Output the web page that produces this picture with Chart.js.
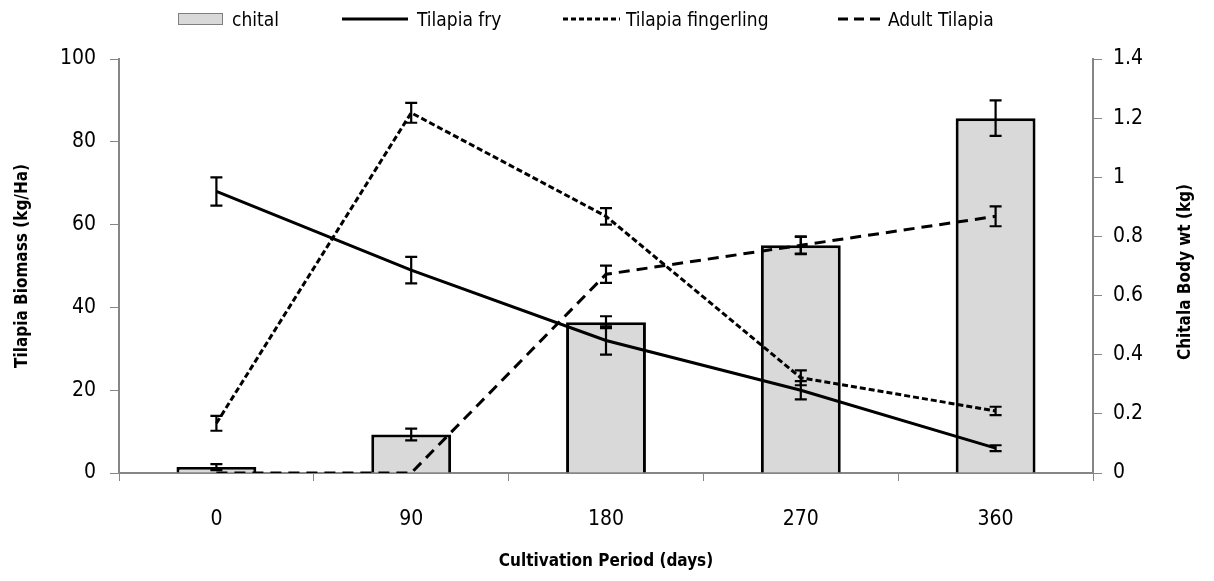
<!DOCTYPE html>
<html>
<head>
<meta charset="utf-8">
<script src="https://cdn.jsdelivr.net/npm/chart.js@4.4.1/dist/chart.umd.min.js"></script>
<style>
  html, body { margin: 0; padding: 0; background: #fff; }
  #wrap { width: 1214px; height: 581px; }
</style>
</head>
<body>
<div id="wrap"><canvas id="chart" width="1214" height="581"></canvas></div>
<script>
// datos
const days = ["0", "90", "180", "270", "360"];

const chital = [0.02, 0.13, 0.51, 0.77, 1.2];
const chitalErr = [0.01, 0.02, 0.02, 0.03, 0.06];

const fry = [68, 49, 32, 20, 6];
const fryErr = [3.4, 3.2, 3.4, 2.2, 0.7];

const fingerling = [12, 87, 62, 23, 15];
const fingerlingErr = [1.8, 2.4, 2.0, 1.8, 1.0];

const adult = [0, 0, 48, 55, 62];
const adultErr = [0, 0, 2.1, 2.0, 2.4];

const leftTicks = [0, 20, 40, 60, 80, 100];
const rightTicks = [0, 0.2, 0.4, 0.6, 0.8, 1, 1.2, 1.4];

const FONT = "'Liberation Sans Narrow', 'DejaVu Sans Condensed', sans-serif";
const AXIS_GRAY = "#868686";

/* =========================
   Barras de error
========================= */
const errorBars = {
  id: "errorBars",
  afterDatasetsDraw(chart) {
    const ctx = chart.ctx;
    chart.data.datasets.forEach((ds, i) => {
      if (!ds.errors) return;
      const meta = chart.getDatasetMeta(i);
      const scale = chart.scales[meta.yAxisID];
      ctx.save();
      ctx.strokeStyle = "#000";
      ctx.lineWidth = 2.2;
      ctx.setLineDash([]);
      meta.data.forEach((el, j) => {
        const e = ds.errors[j];
        if (!e) return;
        const v = ds.data[j];
        const x = el.x;
        const y1 = scale.getPixelForValue(v + e);
        const y2 = scale.getPixelForValue(v - e);
        ctx.beginPath();
        ctx.moveTo(x, y1); ctx.lineTo(x, y2);
        ctx.moveTo(x - 6, y1); ctx.lineTo(x + 6, y1);
        ctx.moveTo(x - 6, y2); ctx.lineTo(x + 6, y2);
        ctx.stroke();
      });
      ctx.restore();
    });
  }
};

/* =========================
   Leyenda y titulo derecho
========================= */
const extras = {
  id: "extras",
  afterDraw(chart) {
    const ctx = chart.ctx;
    ctx.save();
    ctx.font = "19px " + FONT;
    ctx.fillStyle = "#000";
    ctx.textBaseline = "alphabetic";

    const items = [
      { x: 178, w: 45, tx: 232, box: true },
      { x: 342, w: 66, tx: 417, dash: [] },
      { x: 563, w: 57, tx: 626, dash: [5, 3] },
      { x: 838, w: 42, tx: 888, dash: [10, 6] }
    ];
    const yc = 19;
    chart.data.datasets.forEach((ds, i) => {
      const it = items[i];
      if (it.box) {
        ctx.fillStyle = ds.backgroundColor;
        ctx.fillRect(it.x, yc - 6, it.w, 12);
        ctx.strokeStyle = "#7f7f7f";
        ctx.lineWidth = 1;
        ctx.strokeRect(it.x + 0.5, yc - 5.5, it.w - 1, 11);
      } else {
        ctx.strokeStyle = "#000";
        ctx.lineWidth = 3;
        ctx.setLineDash(it.dash);
        ctx.beginPath();
        ctx.moveTo(it.x, yc);
        ctx.lineTo(it.x + it.w, yc);
        ctx.stroke();
        ctx.setLineDash([]);
      }
      ctx.fillStyle = "#000";
      ctx.fillText(ds.label, it.tx, yc + 7);
    });

    // titulo eje derecho, leido de abajo hacia arriba
    const yr = chart.scales.y1;
    ctx.translate(1186, (yr.top + yr.bottom) / 2 + 6);
    ctx.rotate(-Math.PI / 2);
    ctx.font = "bold 17px " + FONT;
    ctx.textAlign = "center";
    ctx.textBaseline = "middle";
    ctx.fillText("Chitala Body wt (kg)", 0, 0);
    ctx.restore();
  }
};

function fmt(v) {
  return String(Math.round(v * 10) / 10);
}

const ctx = document.getElementById("chart").getContext("2d");
new Chart(ctx, {
  type: "bar",
  data: {
    labels: days,
    datasets: [
      {
        type: "bar",
        label: "chital",
        data: chital,
        errors: chitalErr,
        yAxisID: "y1",
        backgroundColor: "#d9d9d9",
        borderColor: "#000",
        borderWidth: 3,
        barPercentage: 0.41,
        categoryPercentage: 1,
        order: 2
      },
      {
        type: "line",
        label: "Tilapia fry",
        data: fry,
        errors: fryErr,
        yAxisID: "y",
        borderColor: "#000",
        borderWidth: 3,
        pointRadius: 0,
        tension: 0,
        fill: false,
        order: 1
      },
      {
        type: "line",
        label: "Tilapia fingerling",
        data: fingerling,
        errors: fingerlingErr,
        yAxisID: "y",
        borderColor: "#000",
        borderWidth: 3,
        borderDash: [6, 3],
        pointRadius: 0,
        tension: 0,
        fill: false,
        order: 1
      },
      {
        type: "line",
        label: "Adult Tilapia",
        data: adult,
        errors: adultErr,
        yAxisID: "y",
        borderColor: "#000",
        borderWidth: 3,
        borderDash: [11, 7],
        pointRadius: 0,
        tension: 0,
        fill: false,
        order: 1
      }
    ]
  },
  options: {
    responsive: false,
    animation: false,
    events: [],
    layout: { padding: { top: 59, left: 0, right: 0, bottom: 0 } },
    plugins: {
      legend: { display: false },
      tooltip: { enabled: false }
    },
    scales: {
      x: {
        offset: true,
        grid: {
          display: true,
          offset: true,
          drawOnChartArea: false,
          drawTicks: true,
          tickLength: 8,
          color: AXIS_GRAY
        },
        border: { display: true, color: AXIS_GRAY, width: 2 },
        ticks: {
          color: "#000",
          font: { family: FONT, size: 21 },
          padding: 26
        },
        title: {
          display: true,
          text: "Cultivation Period (days)",
          color: "#000",
          font: { family: FONT, size: 17, weight: "bold" },
          padding: { top: 0, bottom: 9 }
        },
        afterFit(s) { s.height = 108; }
      },
      y: {
        position: "left",
        min: 0,
        max: 100,
        afterBuildTicks(s) { s.ticks = leftTicks.map(v => ({ value: v })); },
        grid: {
          drawOnChartArea: false,
          tickLength: 9,
          color: AXIS_GRAY
        },
        border: { display: true, color: AXIS_GRAY, width: 2 },
        ticks: {
          color: "#000",
          font: { family: FONT, size: 21 },
          padding: 14
        },
        title: {
          display: true,
          text: "Tilapia Biomass (kg/Ha)",
          color: "#000",
          font: { family: FONT, size: 17, weight: "bold" },
          padding: { top: 12, bottom: 0 }
        },
        afterFit(s) { s.width = 119; }
      },
      y1: {
        position: "right",
        min: 0,
        max: 1.4,
        afterBuildTicks(s) { s.ticks = rightTicks.map(v => ({ value: v })); },
        grid: {
          drawOnChartArea: false,
          tickLength: 9,
          color: AXIS_GRAY
        },
        border: { display: true, color: AXIS_GRAY, width: 2 },
        ticks: {
          color: "#000",
          font: { family: FONT, size: 21 },
          padding: 11,
          callback: v => fmt(v)
        },
        title: { display: false },
        afterFit(s) { s.width = 121; }
      }
    }
  },
  plugins: [errorBars, extras]
});
</script>
</body>
</html>
